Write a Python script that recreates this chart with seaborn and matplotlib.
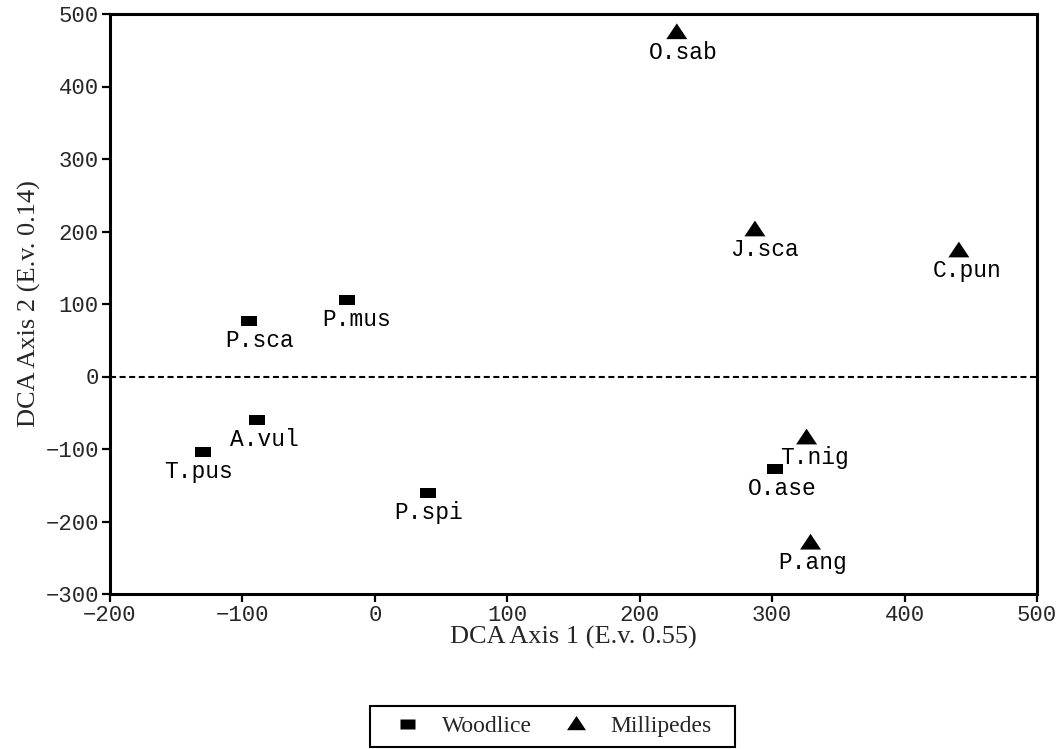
import matplotlib
matplotlib.use("Agg")
import matplotlib.pyplot as plt
from matplotlib.path import Path
from matplotlib.lines import Line2D
from matplotlib.patches import Rectangle
import seaborn as sns
import pandas as pd

# ---- data ----
woodlice_names = ["P.sca", "P.mus", "A.vul", "T.pus", "P.spi", "O.ase"]
woodlice_x = [-95, -21, -89, -130, 40, 302]
woodlice_y = [76, 105, -60, -104, -161, -128]

millipede_names = ["O.sab", "J.sca", "C.pun", "T.nig", "P.ang"]
millipede_x = [228, 287, 441, 326, 329]
millipede_y = [474, 202, 173, -85, -230]

groups = ["Woodlice", "Millipedes"]
x_ticks = [-200, -100, 0, 100, 200, 300, 400, 500]
y_ticks = [-300, -200, -100, 0, 100, 200, 300, 400, 500]
x_label = "DCA Axis 1 (E.v. 0.55)"
y_label = "DCA Axis 2 (E.v. 0.14)"

df = pd.DataFrame({
    "name": woodlice_names + millipede_names,
    "x": woodlice_x + millipede_x,
    "y": woodlice_y + millipede_y,
    "group": [groups[0]] * len(woodlice_names) + [groups[1]] * len(millipede_names),
})

# ---- style ----
sns.set_theme(style="white")
plt.rcParams["font.family"] = ["Liberation Serif", "DejaVu Serif"]
MONO = ["Liberation Mono", "DejaVu Sans Mono"]

rect_marker = Path([(-1, -0.62), (1, -0.62), (1, 0.62), (-1, 0.62), (-1, -0.62)],
                   [Path.MOVETO, Path.LINETO, Path.LINETO, Path.LINETO, Path.CLOSEPOLY])
tri_marker = Path([(-1, -0.6), (1, -0.6), (0, 0.9), (-1, -0.6)],
                  [Path.MOVETO, Path.LINETO, Path.LINETO, Path.CLOSEPOLY])

DPI = 100
fig = plt.figure(figsize=(10.62, 7.49), dpi=DPI)
ax = fig.add_axes([110 / 1062, 1 - 594 / 749, (1037 - 110) / 1062, (594 - 14) / 749])

px = 72 / DPI  # points per pixel
sizes = {groups[0]: (16 * px) ** 2, groups[1]: (21 * px) ** 2}

for g, mk in zip(groups, [rect_marker, tri_marker]):
    sub = df[df["group"] == g]
    sns.scatterplot(data=sub, x="x", y="y", marker=mk, s=sizes[g],
                    color="black", edgecolor="none", linewidth=0, ax=ax, legend=False, zorder=3)

# label nudges (pixels)
nudge = {"P.sca": 11, "P.mus": 10, "A.vul": 7, "T.pus": -4, "P.spi": 1, "O.ase": 7,
         "O.sab": 6, "J.sca": 10, "C.pun": 8, "T.nig": 8, "P.ang": 2}
for _, r in df.iterrows():
    ax.annotate(r["name"], (r["x"], r["y"]),
                xytext=(nudge.get(r["name"], 0) * px, -19.5 * px), textcoords="offset points",
                ha="center", va="center", family=MONO,
                fontsize=16.5, color="black", zorder=4)

ax.axhline(0, color="black", lw=1.5, dashes=(2.9, 1.7), zorder=2)

ax.set_xlim(-200, 500)
ax.set_ylim(-300, 500)
ax.set_xticks(x_ticks)
ax.set_yticks(y_ticks)
ax.set_xticklabels([f"{v}".replace("-", "\u2212") for v in x_ticks], family=MONO, fontsize=16)
ax.set_yticklabels([f"{v}".replace("-", "\u2212") for v in y_ticks], family=MONO, fontsize=16)
ax.tick_params(direction="out", length=6, width=1.6, color="black", pad=2,
               bottom=True, left=True, top=False, right=False)
for s in ax.spines.values():
    s.set_visible(True)
    s.set_color("black")
    s.set_linewidth(2.2)

ax.set_xlabel(x_label, fontsize=19, labelpad=0)
ax.set_ylabel(y_label, fontsize=19, labelpad=3)

handles = [
    Line2D([], [], linestyle="none", marker=rect_marker, markersize=15 * px,
           markerfacecolor="black", markeredgecolor="none", label=groups[0]),
    Line2D([], [], linestyle="none", marker=tri_marker, markersize=19 * px,
           markerfacecolor="black", markeredgecolor="none", label=groups[1]),
]
leg = fig.legend(handles=handles, ncol=2, loc="center", bbox_to_anchor=(545 / 1062, 1 - 726 / 749),
                 frameon=False, fontsize=17, handletextpad=0.27, handlelength=2.42,
                 columnspacing=0.65, borderpad=0.0)
fig.patches.append(Rectangle((370 / 1062, 1 - 747 / 749), (735 - 370) / 1062, (747 - 706) / 749,
                             transform=fig.transFigure, fill=False, edgecolor="black",
                             linewidth=1.5, zorder=5))

fig.savefig("out.png", dpi=DPI)
